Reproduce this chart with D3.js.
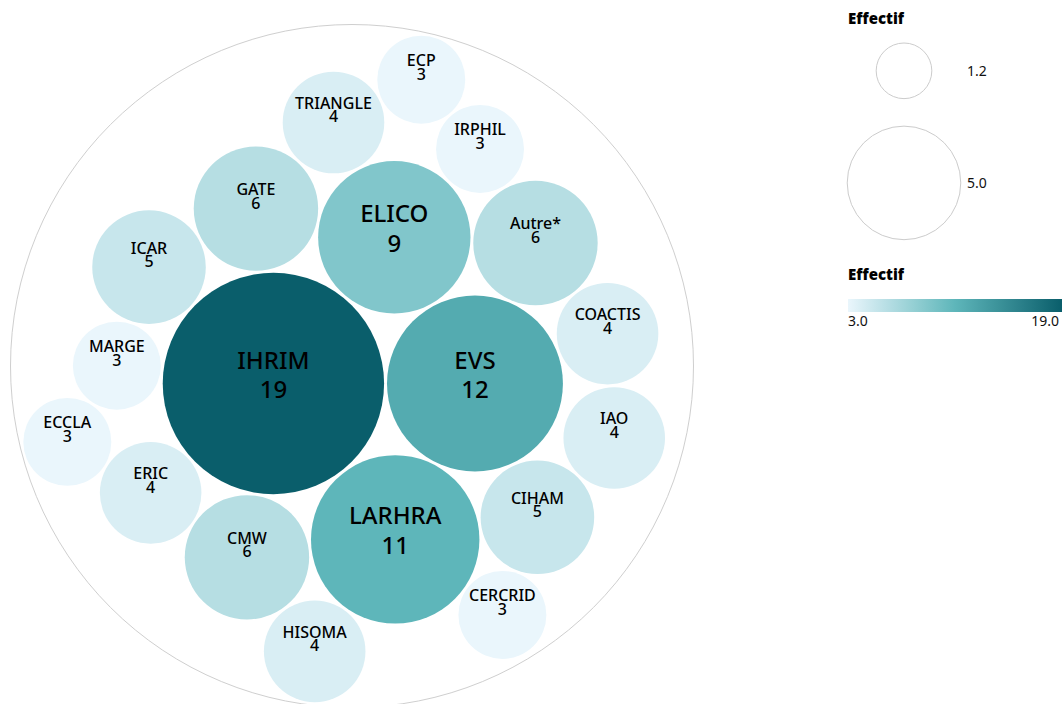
<!DOCTYPE html>
<html><head><meta charset="utf-8">
<script src="https://cdn.jsdelivr.net/npm/d3@7"></script>
<style>
body{margin:0;background:#fff;}
svg{display:block;font-family:"Noto Sans","Open Sans",sans-serif;}
</style>
</head><body>
<svg id="chart" width="1064" height="704"></svg>
<script>
// ---- data ----
const names = ["IHRIM","EVS","LARHRA","ELICO","GATE","CMW","Autre*","CIHAM","ICAR",
  "ERIC","TRIANGLE","COACTIS","IAO","HISOMA","IRPHIL","CERCRID","MARGE","ECCLA","ECP"];
const values = [19,12,11,9,6,6,6,5,5,4,4,4,4,4,3,3,3,3,3];
const legendTitle = "Effectif";
const sizeLegendValues = [1.2, 5.0];
const colorLegendTicks = [3.0, 19.0];

// ---- layout ----
const svg = d3.select("#chart");
const data = names.map((n, i) => ({name: n, value: values[i]}));
const root = d3.hierarchy({children: data})
  .sum(d => d.value || 0)
  .sort((a, b) => b.value - a.value);
const packSize = 683;
d3.pack().size([packSize, packSize]).padding(3)(root);

const vmin = d3.min(values), vmax = d3.max(values);
const color = d3.scaleLinear()
  .domain([vmin, (vmin + vmax) / 2, vmax])
  .range(["#eaf6fc", "#5eb6ba", "#0a5e6b"]);

const g = svg.append("g").attr("transform", "translate(10.5,24.5)");
g.append("circle")
  .attr("cx", root.x).attr("cy", root.y).attr("r", root.r)
  .attr("fill", "none").attr("stroke", "#cfcfcf").attr("stroke-width", 1);

const leaves = root.leaves();
const node = g.selectAll("g.leaf").data(leaves).join("g")
  .attr("class", "leaf")
  .attr("transform", d => `translate(${d.x},${d.y})`);
node.append("circle").attr("r", d => d.r).attr("fill", d => color(d.data.value));

const big = d => d.r > 70;
node.append("text")
  .attr("text-anchor", "middle")
  .attr("y", d => big(d) ? -15 : -13.5)
  .attr("font-size", d => big(d) ? 24 : 16)
  .attr("font-weight", 500)
  .attr("fill", "#000")
  .text(d => d.data.name);
node.append("text")
  .attr("text-anchor", "middle")
  .attr("y", d => big(d) ? 14.5 : 0)
  .attr("font-size", d => big(d) ? 24 : 16)
  .attr("font-weight", 500)
  .attr("fill", "#000")
  .text(d => d.data.value);

// ---- size legend ----
const k = leaves[0].r / Math.sqrt(leaves[0].value);
const rScale = v => k * Math.sqrt(v);
const lx = 904;
const lg = svg.append("g");
lg.append("text").attr("x", 848).attr("y", 24)
  .attr("font-size", 15).attr("font-weight", 800)
  .attr("font-family", "'Open Sans','Noto Sans',sans-serif")
  .text(legendTitle);
let yCur = 43;
sizeLegendValues.forEach(v => {
  const r = rScale(v);
  const cy = yCur + r;
  lg.append("circle").attr("cx", lx).attr("cy", cy).attr("r", r)
    .attr("fill", "none").attr("stroke", "#cccccc");
  lg.append("text").attr("x", 967).attr("y", cy + 5)
    .attr("font-size", 14).attr("fill", "#111").text(d3.format(".1f")(v));
  yCur = cy + r + 27.5;
});

// ---- color legend ----
const defs = svg.append("defs");
const grad = defs.append("linearGradient").attr("id", "grad");
d3.range(0, 1.0001, 0.1).forEach(t => {
  grad.append("stop").attr("offset", t)
    .attr("stop-color", color(vmin + t * (vmax - vmin)));
});
lg.append("text").attr("x", 848).attr("y", 280)
  .attr("font-size", 15).attr("font-weight", 800)
  .attr("font-family", "'Open Sans','Noto Sans',sans-serif")
  .text(legendTitle);
const gx = d3.scaleLinear().domain([vmin, vmax]).range([848, 1062]);
lg.append("rect").attr("x", gx(vmin)).attr("y", 299)
  .attr("width", gx(vmax) - gx(vmin)).attr("height", 13)
  .attr("fill", "url(#grad)");
colorLegendTicks.forEach((t, i) => {
  lg.append("text").attr("x", i === 0 ? gx(t) : gx(t) - 3).attr("y", 326)
    .attr("text-anchor", i === 0 ? "start" : "end")
    .attr("font-size", 14).attr("fill", "#111").text(d3.format(".1f")(t));
});
</script>
</body></html>
